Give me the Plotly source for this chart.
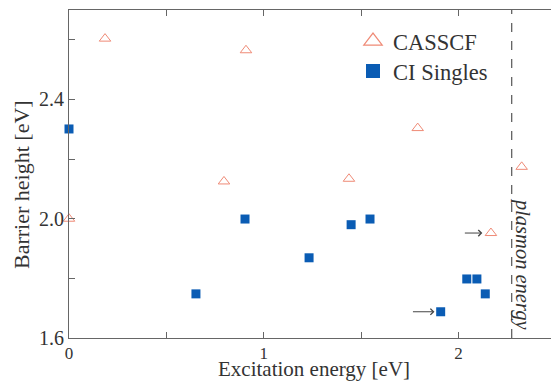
import plotly.graph_objects as go

# CASSCF barrier heights (open triangles)
casscf_x = [0.0, 0.185, 0.909, 0.796, 1.438, 1.791, 2.167, 2.325]
casscf_y = [2.0, 2.604, 2.565, 2.125, 2.134, 2.304, 1.952, 2.174]

# CI Singles barrier heights (filled squares)
cis_x = [0.0, 0.652, 0.904, 1.233, 1.449, 1.546, 1.909, 2.043, 2.095, 2.138]
cis_y = [2.301, 1.748, 1.999, 1.869, 1.980, 1.999, 1.688, 1.798, 1.798, 1.748]

plasmon_energy = 2.274
x_range = [0, 2.4756]
y_range = [1.6, 2.7]
x_ticks = [0, 1, 2]
y_ticks = [1.6, 2.0, 2.4]

FONT = "Liberation Serif"
TXT = "#333333"
RED = "#ef8a76"
BLUE = "#0a5cb4"

W, H = 551, 381
L, T, R, B = 69, 9.5, 0, 42.5
pw, ph = W - L - R, H - T - B


def px_x(p):
    return (p - L) / pw


def px_y(p):
    return 1 - (p - T) / ph


fig = go.Figure()

fig.add_trace(go.Scatter(
    x=casscf_x, y=casscf_y, mode="markers", showlegend=False, cliponaxis=False,
    marker=dict(symbol="triangle-up-open", size=10, color=RED, line=dict(width=1))))
fig.add_trace(go.Scatter(
    x=cis_x, y=cis_y, mode="markers", showlegend=False, cliponaxis=False,
    marker=dict(symbol="square", size=9, color=BLUE)))

# legend entries
fig.add_trace(go.Scatter(
    x=[None], y=[None], mode="markers", name="CASSCF", legend="legend",
    marker=dict(symbol="triangle-up-open", size=16, color=RED, line=dict(width=1.2))))
fig.add_trace(go.Scatter(
    x=[None], y=[None], mode="markers", name="CI Singles", legend="legend2",
    marker=dict(symbol="square", size=14, color=BLUE)))

fig.add_shape(type="line", x0=plasmon_energy, x1=plasmon_energy, y0=0, y1=1,
              xref="x", yref="paper", line=dict(color="#333333", width=1, dash="dash"))

fig.add_annotation(x=plasmon_energy, y=1.846, xref="x", yref="y", xshift=11,
                   text="<i>plasmon energy</i>", textangle=90, showarrow=False,
                   xanchor="center", yanchor="middle",
                   font=dict(family=FONT, size=20.5, color=TXT))

# arrows
fig.add_annotation(x=1.877, y=1.688, xref="x", yref="y", ax=-23, ay=0, axref="pixel", ayref="pixel",
                   text="", showarrow=True, arrowhead=4, arrowsize=1.2, arrowwidth=1, arrowcolor="#444444")
fig.add_annotation(x=2.123, y=1.952, xref="x", yref="y", ax=-19, ay=0, axref="pixel", ayref="pixel",
                   text="", showarrow=True, arrowhead=4, arrowsize=1.2, arrowwidth=1, arrowcolor="#444444")

# axis titles
fig.add_annotation(x=px_x(22), y=px_y(185), xref="paper", yref="paper", text="Barrier height [eV]",
                   showarrow=False, textangle=-90, xanchor="center", yanchor="middle",
                   font=dict(family=FONT, size=22, color=TXT))
fig.add_annotation(x=px_x(313.5), y=px_y(369.5), xref="paper", yref="paper", text="Excitation energy [eV]",
                   showarrow=False, xanchor="center", yanchor="middle",
                   font=dict(family=FONT, size=21, color=TXT))

leg_common = dict(xanchor="left", yanchor="middle", bgcolor="rgba(0,0,0,0)",
                  font=dict(family=FONT, size=22.5, color=TXT), itemwidth=30)
fig.update_layout(
    width=W, height=H,
    margin=dict(l=L, r=R, t=T, b=B, pad=0),
    plot_bgcolor="white", paper_bgcolor="white",
    font=dict(family=FONT, size=19, color=TXT),
    showlegend=True,
    legend=dict(x=px_x(353), y=px_y(41), **leg_common),
    legend2=dict(x=px_x(353), y=px_y(71), **leg_common),
)
fig.update_xaxes(range=x_range, tickvals=x_ticks, ticktext=[str(v) for v in x_ticks],
                 showgrid=False, zeroline=False, showline=True, linecolor="#666666", linewidth=1,
                 mirror="ticks", ticks="inside", ticklen=6, tickcolor="#666666",
                 minor=dict(tickvals=[0.5, 1.5], ticks="inside", ticklen=6, tickcolor="#666666"),
                 automargin=False, tickfont=dict(size=17))
fig.update_yaxes(range=y_range, tickvals=y_ticks, ticktext=["1.6", "2.0", "2.4"],
                 showgrid=False, zeroline=False, showline=True, linecolor="#666666", linewidth=1,
                 mirror=False, ticks="inside", ticklen=6, tickcolor="#666666",
                 minor=dict(tickvals=[1.8, 2.2, 2.6], ticks="inside", ticklen=6, tickcolor="#666666"),
                 automargin=False, tickfont=dict(size=20))

fig.write_html("out.html")
